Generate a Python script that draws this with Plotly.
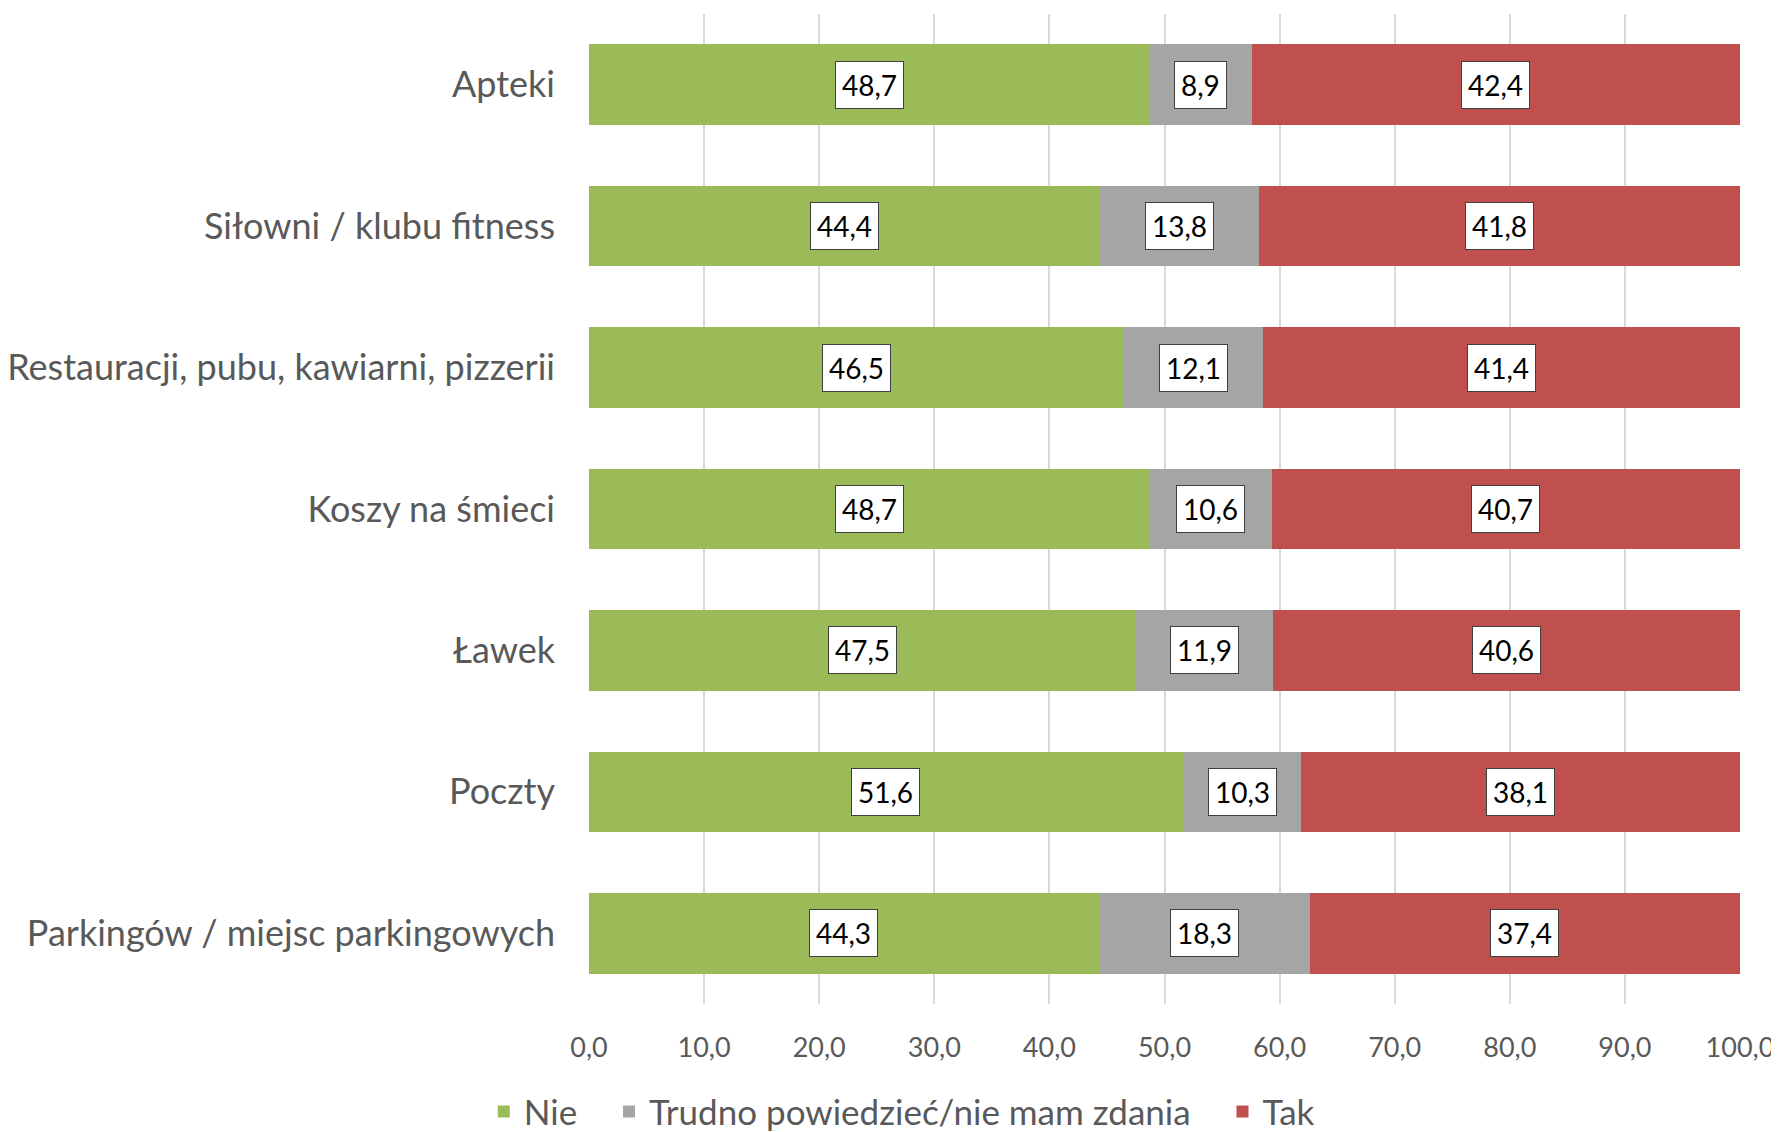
import plotly.graph_objects as go

# Data
categories = ["Apteki", "Siłowni / klubu fitness", "Restauracji, pubu, kawiarni, pizzerii",
              "Koszy na śmieci", "Ławek", "Poczty", "Parkingów / miejsc parkingowych"]
nie = [48.7, 44.4, 46.5, 48.7, 47.5, 51.6, 44.3]
trudno = [8.9, 13.8, 12.1, 10.6, 11.9, 10.3, 18.3]
tak = [42.4, 41.8, 41.4, 40.7, 40.6, 38.1, 37.4]

series = [("Nie", nie, "#9BBB59"),
          ("Trudno powiedzieć/nie mam zdania", trudno, "#A5A5A5"),
          ("Tak", tak, "#C0504D")]

FONT = "Lato"
TXT = "#595959"
PAD = "\u00a0" * 3  # extra room between legend entries

fig = go.Figure()
for name, vals, col in series:
    fig.add_trace(go.Bar(y=categories, x=vals, name=name + PAD, orientation="h",
                         marker=dict(color=col, line=dict(width=0))))

# boxed data labels at the middle of each segment
base = [0.0] * len(categories)
for name, vals, col in series:
    for i, v in enumerate(vals):
        fig.add_annotation(x=base[i] + v / 2, y=categories[i], xref="x", yref="y",
                           text=f"{v:.1f}".replace(".", ","), showarrow=False,
                           font=dict(family=FONT, size=28, color="#000000"),
                           bgcolor="#FFFFFF", bordercolor="#404040", borderwidth=1, borderpad=6)
        base[i] += v

# page has an 8px body margin, so everything is shifted up/left by 8px here
fig.update_layout(
    barmode="stack",
    bargap=0.43,
    width=1779, height=1132,
    margin=dict(l=581, r=47, t=6, b=136),
    plot_bgcolor="#FFFFFF", paper_bgcolor="#FFFFFF",
    separators=", ",
    font=dict(family=FONT, color=TXT),
    legend=dict(orientation="h", xref="container", yref="container", x=0.51, y=0.025,
                xanchor="center", yanchor="middle", font=dict(size=35, color=TXT),
                traceorder="normal", itemwidth=30),
    showlegend=True,
)
fig.update_xaxes(range=[0, 100], dtick=10, tickformat=".1f", showgrid=True,
                 gridcolor="#D9D9D9", gridwidth=2, zeroline=False,
                 tickfont=dict(size=27, color=TXT), ticklabelstandoff=25,
                 showline=False, automargin=False)
fig.update_yaxes(autorange="reversed", tickfont=dict(size=36, color=TXT),
                 ticklabelstandoff=33, showgrid=False, showline=False, automargin=False)

fig.write_html("out.html")
